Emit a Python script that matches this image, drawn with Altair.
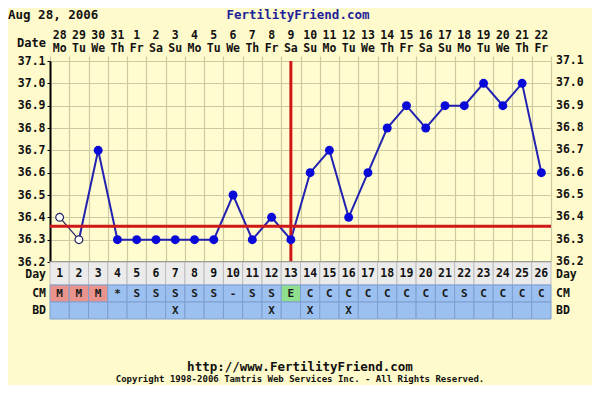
import altair as alt
import pandas as pd

# ---------------- data ----------------
DAYS = list(range(1, 27))
DATES = ["28", "29", "30", "31", "1", "2", "3", "4", "5", "6", "7", "8", "9",
         "10", "11", "12", "13", "14", "15", "16", "17", "18", "19", "20", "21", "22"]
WEEKDAYS = ["Mo", "Tu", "We", "Th", "Fr", "Sa", "Su", "Mo", "Tu", "We", "Th", "Fr", "Sa",
            "Su", "Mo", "Tu", "We", "Th", "Fr", "Sa", "Su", "Mo", "Tu", "We", "Th", "Fr"]
TEMPS = [36.4, 36.3, 36.7, 36.3, 36.3, 36.3, 36.3, 36.3, 36.3, 36.5, 36.3, 36.4, 36.3,
         36.6, 36.7, 36.4, 36.6, 36.8, 36.9, 36.8, 36.9, 36.9, 37.0, 36.9, 37.0, 36.6]
OPEN_DAYS = [1, 2]
CM = ["M", "M", "M", "*", "S", "S", "S", "S", "S", "-", "S", "S", "E",
      "C", "C", "C", "C", "C", "C", "C", "C", "S", "C", "C", "C", "C"]
BD_DAYS = [7, 12, 14, 16]
COVERLINE = 36.36
OVULATION_DAY = 13
TEMP_TICKS = [36.2, 36.3, 36.4, 36.5, 36.6, 36.7, 36.8, 36.9, 37.0, 37.1]
DAY_ROW = ["Day"]
OBS_ROWS = ["CM", "BD"]
HEADER_ROWS = ["date", "weekday"]
TITLE = "Aug 28, 2006"
SITE = "FertilityFriend.com"
URL = "http://www.FertilityFriend.com"
COPYRIGHT = "Copyright 1998-2006 Tamtris Web Services Inc. - All Rights Reserved."

# ---------------- style ----------------
FONT = "DejaVu Sans Mono"
BG = "#FFFACB"
PLOT_BG = "#FFFCD0"
GRID = "#CDC9A2"
RED = "#D01818"
LINE_BLUE = "#2222B0"
DOT_BLUE = "#0A0AD8"
W, H = 501, 201

# ---------------- tables ----------------
temp_df = pd.DataFrame({"day": DAYS, "temp": TEMPS})
open_df = temp_df[temp_df["day"].isin(OPEN_DAYS)]
filled_df = temp_df[~temp_df["day"].isin(OPEN_DAYS)]
thin_df = temp_df[temp_df["day"] <= max(OPEN_DAYS)]
thick_df = temp_df[temp_df["day"] >= max(OPEN_DAYS)]

day_df = pd.DataFrame({"day": DAYS, "row": "Day", "label": [str(d) for d in DAYS]})

obs = []
for i, d in enumerate(DAYS):
    cm = CM[i]
    obs.append({"day": d, "row": "CM", "label": cm,
                "kind": cm if cm in ("M", "E") else "plain"})
    obs.append({"day": d, "row": "BD", "label": "X" if d in BD_DAYS else "",
                "kind": "plain"})
obs_df = pd.DataFrame(obs)

header = []
for i, d in enumerate(DAYS):
    header.append({"day": d, "hrow": "date", "label": DATES[i]})
    header.append({"day": d, "hrow": "weekday", "label": WEEKDAYS[i]})
header_df = pd.DataFrame(header)

# ---------------- scales / axes ----------------
xscale = alt.Scale(domain=[0.5, 26.5], nice=False, zero=False)
yscale = alt.Scale(domain=[36.2, 37.1], nice=False, zero=False)
xaxis = alt.Axis(orient="top", values=[d + 0.5 for d in range(0, 27)], labels=False,
                 title=None, domain=False, ticks=True, tickSize=5, tickColor=GRID,
                 tickWidth=1.2, grid=True, gridColor=GRID, gridWidth=1.2, gridOpacity=1)
yaxis = alt.Axis(values=TEMP_TICKS, format=".1f", title=None, labelFont=FONT,
                 labelFontSize=11.5, labelFontWeight="bold", labelColor="#111",
                 tickSize=3, tickColor="#000", domainColor="#000", domainWidth=2,
                 labelPadding=2, grid=True, gridColor=GRID, gridWidth=1.2, gridOpacity=1)

X = alt.X("day:Q", scale=xscale, axis=xaxis)
Y = alt.Y("temp:Q", scale=yscale, axis=yaxis)

# ---------------- temperature panel ----------------
thin_line = alt.Chart(thin_df).mark_line(color="#202060", strokeWidth=1.2).encode(x=X, y=Y)
thick_line = alt.Chart(thick_df).mark_line(color=LINE_BLUE, strokeWidth=2).encode(x=X, y=Y)
cover = alt.Chart(pd.DataFrame({"temp": [COVERLINE]})).mark_rule(
    color=RED, strokeWidth=3).encode(y=Y)
ovul = alt.Chart(pd.DataFrame({"day": [OVULATION_DAY]})).mark_rule(
    color=RED, strokeWidth=3).encode(x=X)
bottom = alt.Chart(pd.DataFrame({"temp": [TEMP_TICKS[0]]})).mark_rule(
    color="#555", strokeWidth=1.5).encode(y=Y)
open_pts = alt.Chart(open_df).mark_point(
    shape="circle", filled=True, fill="white", stroke="#202060", strokeWidth=1.2,
    size=60, opacity=1).encode(x=X, y=Y)
filled_pts = alt.Chart(filled_df).mark_point(
    shape="circle", filled=True, color=DOT_BLUE, size=80, opacity=1).encode(x=X, y=Y)
right_labels = alt.Chart(pd.DataFrame({"temp": TEMP_TICKS})).mark_text(
    font=FONT, fontSize=11.5, fontWeight="bold", color="#111", align="left",
    baseline="middle", clip=False).encode(
    x=alt.value(W + 5), y=Y, text=alt.Text("temp:Q", format=".1f"))

temp_group = alt.layer(thin_line, thick_line, cover, ovul, bottom, open_pts,
                       filled_pts, right_labels)


def row_labels(rows, ry, dy=0):
    df = pd.DataFrame({"row": rows})
    left = alt.Chart(df).mark_text(
        font=FONT, fontSize=11.5, fontWeight="bold", color="#111", align="right",
        baseline="middle", dy=dy, clip=False).encode(x=alt.value(-4), y=ry, text="row:N")
    right = alt.Chart(df).mark_text(
        font=FONT, fontSize=11.5, fontWeight="bold", color="#111", align="left",
        baseline="middle", dy=dy, clip=False).encode(x=alt.value(W + 5), y=ry, text="row:N")
    return [left, right]


# ---------------- "Day" row ----------------
DY = alt.Y("row:N", scale=alt.Scale(domain=DAY_ROW, range=[H, H + 23],
                                    paddingInner=0, paddingOuter=0), axis=None)
day_rect = alt.Chart(day_df).transform_calculate(
    lo="datum.day - 0.5", hi="datum.day + 0.5").mark_rect(
    fill="#EBEBEB", stroke="#BDBDBD", strokeWidth=1, clip=False).encode(
    x=alt.X("lo:Q", scale=xscale, axis=xaxis), x2="hi:Q", y=DY)
day_text = alt.Chart(day_df).mark_text(
    font=FONT, fontSize=11.5, fontWeight="bold", color="#111", baseline="middle",
    clip=False).encode(x=X, y=DY, text="label:N")
day_group = alt.layer(day_rect, day_text, *row_labels(DAY_ROW, DY, dy=1.5))

# ---------------- CM / BD rows ----------------
OY = alt.Y("row:N", scale=alt.Scale(domain=OBS_ROWS, range=[H + 23, H + 57],
                                    paddingInner=0, paddingOuter=0), axis=None)
obs_rect = alt.Chart(obs_df).transform_calculate(
    lo="datum.day - 0.5", hi="datum.day + 0.5").mark_rect(
    stroke="#7E9ED0", strokeWidth=1, clip=False).encode(
    x=alt.X("lo:Q", scale=xscale, axis=xaxis), x2="hi:Q", y=OY,
    fill=alt.Fill("kind:N", scale=alt.Scale(domain=["plain", "M", "E"],
                  range=["#9CC1F0", "#E8938C", "#8EDE8E"]), legend=None))
obs_text = alt.Chart(obs_df).mark_text(
    font=FONT, fontSize=11, fontWeight="bold", color="#1A1A1A", baseline="middle",
    clip=False).encode(x=X, y=OY, text="label:N")
obs_group = alt.layer(obs_rect, obs_text, *row_labels(OBS_ROWS, OY))

# ---------------- header ----------------
HY = alt.Y("hrow:N", scale=alt.Scale(domain=HEADER_ROWS, range=[-32, -5],
                                     paddingInner=0, paddingOuter=0), axis=None)
head_text = alt.Chart(header_df).mark_text(
    font=FONT, fontSize=11.5, fontWeight="bold", color="#111", baseline="middle",
    clip=False).encode(x=X, y=HY, text="label:N")
header_group = alt.layer(head_text)


def label(txt, x, y, size, color="#111", align="left", weight="bold"):
    return alt.Chart(pd.DataFrame({"t": [txt]})).mark_text(
        font=FONT, fontSize=size, fontWeight=weight, color=color, align=align,
        baseline="middle", clip=False).encode(x=alt.value(x), y=alt.value(y), text="t:N")


texts = alt.layer(
    label(TITLE, -42, -46, 12.5),
    label(SITE, 248, -46, 12.5, color="#1F1F9A", align="center"),
    label("Date", -4, -18, 12, align="right"),
    label(URL, 250, 306, 12.5, align="center"),
    label(COPYRIGHT, 250, 318, 9, align="center"),
)

chart = alt.layer(temp_group, day_group, obs_group, header_group, texts).resolve_scale(
    y="independent"
).properties(
    width=W, height=H,
    autosize=alt.AutoSizeParams(type="none"),
    padding={"left": 42, "top": 53, "right": 41, "bottom": 123},
    background=BG,
).configure_view(fill=PLOT_BG, stroke=None)

chart.save("out.html", embed_options={"renderer": "svg", "actions": False})
